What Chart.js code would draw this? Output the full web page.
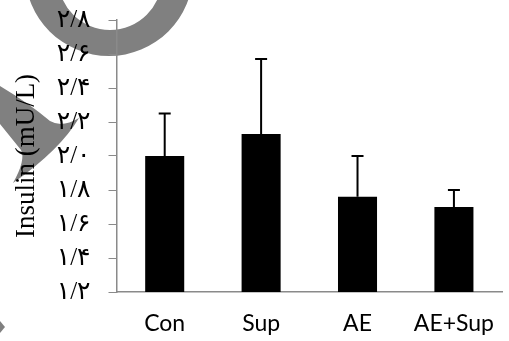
<!DOCTYPE html>
<html>
<head>
<meta charset="utf-8">
<script src="https://cdn.jsdelivr.net/npm/chart.js@4.4.1/dist/chart.umd.min.js"></script>
<style>
  html, body { margin: 0; padding: 0; background: #fff; overflow: hidden; }
  #wrap { width: 512px; height: 341px; position: relative; }
</style>
</head>
<body>
<div id="wrap"><canvas id="c"></canvas></div>
<script>
// Group names, mean insulin and upper error (SD) per group
const categories = ['Con', 'Sup', 'AE', 'AE+Sup'];
const insulin = [2.0, 2.13, 1.76, 1.70];
const errors = [0.25, 0.44, 0.24, 0.10];

// y axis range and step
const yMin = 1.2;
const yMax = 2.8;
const yStep = 0.2;

const faDigits = '۰۱۲۳۴۵۶۷۸۹';
function toPersian(v) {
  return v.toFixed(1).replace(/\d/g, d => faDigits[d]).replace('.', '/');
}

// grey logo shapes painted under the chart
const logoPlugin = {
  id: 'logo',
  beforeDraw(chart) {
    const ctx = chart.ctx;
    ctx.save();
    ctx.fillStyle = '#808080';
    // ring
    ctx.beginPath();
    ctx.ellipse(109, -28, 84, 84, 0, 0, Math.PI * 2);
    ctx.moveTo(110 + 52, -22);
    ctx.ellipse(110, -22, 52, 52, 0, 0, Math.PI * 2);
    ctx.fill('evenodd');
    // swoosh
    ctx.beginPath();
    ctx.moveTo(0, 86);
    ctx.quadraticCurveTo(30, 104, 50, 121);
    ctx.quadraticCurveTo(62, 128, 79, 118);
    ctx.quadraticCurveTo(60, 150, 13, 183);
    ctx.quadraticCurveTo(26, 160, 21, 150);
    ctx.lineTo(0, 124);
    ctx.closePath();
    ctx.fill();
    // small triangle
    ctx.beginPath();
    ctx.moveTo(0, 321);
    ctx.lineTo(5, 327);
    ctx.lineTo(0, 333);
    ctx.closePath();
    ctx.fill();
    ctx.restore();
  }
};

// upper error bars with caps
const errorBarPlugin = {
  id: 'errorBars',
  afterDatasetsDraw(chart) {
    const ctx = chart.ctx;
    const meta = chart.getDatasetMeta(0);
    const y = chart.scales.y;
    ctx.save();
    ctx.strokeStyle = '#000';
    ctx.lineWidth = 2;
    meta.data.forEach((bar, i) => {
      const x = bar.x;
      const y0 = y.getPixelForValue(insulin[i]);
      const y1 = y.getPixelForValue(insulin[i] + errors[i]);
      ctx.beginPath();
      ctx.moveTo(x, y0);
      ctx.lineTo(x, y1);
      ctx.moveTo(x - 6, y1);
      ctx.lineTo(x + 6, y1);
      ctx.stroke();
    });
    ctx.restore();
  }
};

new Chart(document.getElementById('c'), {
  type: 'bar',
  data: {
    labels: categories,
    datasets: [{
      data: insulin,
      backgroundColor: '#000',
      borderWidth: 0,
      barPercentage: 0.405,
      categoryPercentage: 1.0
    }]
  },
  options: {
    responsive: true,
    maintainAspectRatio: false,
    animation: false,
    layout: { padding: { top: 20, right: 0, bottom: 0, left: 0 } },
    plugins: { legend: { display: false }, tooltip: { enabled: false } },
    scales: {
      x: {
        grid: { display: false, drawTicks: false },
        border: { display: true, color: '#8a8a8a', width: 1.5 },
        ticks: {
          color: '#000',
          font: { family: 'Lato', size: 23 },
          padding: 18
        },
        afterFit(scale) { scale.height = 49; }
      },
      y: {
        min: yMin,
        max: yMax,
        grid: { drawOnChartArea: false, drawTicks: true, tickLength: 8, color: '#8a8a8a', tickColor: '#8a8a8a' },
        border: { display: true, color: '#8a8a8a', width: 1.5 },
        ticks: {
          stepSize: yStep,
          autoSkip: false,
          color: '#000',
          font: { family: "'Times New Roman', 'Liberation Serif', 'DejaVu Sans'", size: 25 },
          padding: 18,
          callback: v => toPersian(v)
        },
        title: {
          display: true,
          text: 'Insulin (mU/L)',
          color: '#000',
          font: { family: "'Times New Roman', 'Liberation Serif'", size: 27, lineHeight: 1 },
          padding: { top: 13.5, bottom: 0 }
        },
        afterFit(scale) {
          scale.width = 116.5;
          scale.paddingTop = 0;
          scale.paddingBottom = 0;
        }
      }
    }
  },
  plugins: [logoPlugin, errorBarPlugin]
});
</script>
</body>
</html>
